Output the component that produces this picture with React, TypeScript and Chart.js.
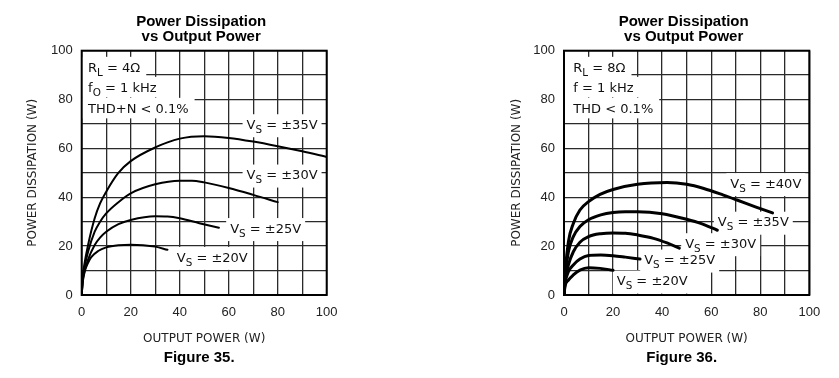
import React, { useEffect, useRef } from 'react';
import { Chart, registerables } from 'chart.js';

Chart.register(...registerables);

// ---------- Figure 35 data (R_L = 4 Ω) ----------
const fig35X20 = [0, 0.4, 1.2, 2.5, 3.9, 6.7, 10, 15, 20, 25, 30, 35];
const fig35Y20 = [0, 5, 9.5, 13, 15.5, 18.0, 19.5, 20.4, 20.6, 20.4, 19.8, 18.5];
const fig35X25 = [0, 0.4, 1, 2.6, 5.3, 7.5, 10, 15, 20, 30, 35, 40, 48, 56];
const fig35Y25 = [0, 5.5, 9, 14.5, 20.5, 23.5, 25.9, 29, 30.7, 32.2, 32.1, 31.4, 29.4, 27.5];
const fig35X30 = [0, 0.4, 1, 2.6, 5.3, 7.5, 10, 15, 20, 30, 40, 45, 50, 60, 70, 80];
const fig35Y30 = [0, 6.5, 10.5, 17.7, 25.9, 30, 33.4, 38, 41.6, 45.3, 46.8, 46.8, 46.1, 43.8, 41, 38];
const fig35X35 = [0, 0.4, 1, 2.6, 5.3, 7.5, 10, 14.8, 20, 30, 40, 50, 60, 70, 80, 90, 100];
const fig35Y35 = [0, 7.5, 12, 20.5, 31.4, 37.5, 42.3, 49.8, 54.8, 60.4, 64, 65, 64.3, 62.8, 60.9, 58.8, 56.5];

// ---------- Figure 36 data (R_L = 8 Ω) ----------
const fig36X20 = [0, 0.4, 1.8, 3.8, 6.5, 10, 14.7, 20];
const fig36Y20 = [0, 3.5, 6.1, 8.2, 10.2, 11.2, 10.9, 10.1];
const fig36X25 = [0, 0.4, 1.8, 3.8, 6.5, 10, 15, 20, 25, 31];
const fig36Y25 = [0, 4.5, 9.5, 12.3, 14.7, 16.2, 16.4, 16.1, 15.5, 14.7];
const fig36X30 = [0, 0.4, 1.8, 3.8, 6.5, 10, 15, 20, 25, 30, 36.5, 42, 47];
const fig36Y30 = [0, 5.5, 12.3, 17.7, 21.6, 23.9, 25.1, 25.4, 25.3, 24.6, 23.2, 21.3, 19.2];
const fig36X35 = [0, 0.4, 1.8, 3.8, 6.5, 10, 15, 20, 25, 30, 40, 50, 56, 62.5];
const fig36Y35 = [0, 7, 17.7, 23.9, 28, 30.8, 32.8, 33.8, 34.1, 34.1, 33.3, 31, 29.2, 26.5];
const fig36X40 = [0, 0.4, 1.8, 3.8, 6.5, 10, 14.7, 20, 30, 42, 50, 57, 65, 70.5, 78, 85];
const fig36Y40 = [0, 8, 21.8, 29.3, 34.8, 38.2, 41.2, 43.2, 45.3, 46, 45.3, 43.6, 40.9, 38.9, 36.1, 33.6];

// ---------- Axis tick labels ----------
const X_TICK_LABELS = [0, 20, 40, 60, 80, 100];
const Y_TICK_LABELS = [0, 20, 40, 60, 80, 100];

const TITLE_LINES = ['Power Dissipation', 'vs Output Power'];
const X_TITLE = 'OUTPUT POWER (W)';
const Y_TITLE = 'POWER DISSIPATION (W)';

type Seg = { t: string; sub?: boolean };
type Note = { segs: Seg[]; x: number; y: number };

const fig35Conditions: Note[] = [
  { segs: [{ t: 'R' }, { t: 'L', sub: true }, { t: ' = 4Ω' }], x: 2.6, y: 93.3 },
  { segs: [{ t: 'f' }, { t: 'O', sub: true }, { t: ' = 1 kHz' }], x: 2.6, y: 85.1 },
  { segs: [{ t: 'THD+N < 0.1%' }], x: 2.6, y: 76.5 },
];
const fig35Labels: Note[] = [
  { segs: [{ t: 'V' }, { t: 'S', sub: true }, { t: ' = ±35V' }], x: 67.3, y: 69.9 },
  { segs: [{ t: 'V' }, { t: 'S', sub: true }, { t: ' = ±30V' }], x: 67.3, y: 49.3 },
  { segs: [{ t: 'V' }, { t: 'S', sub: true }, { t: ' = ±25V' }], x: 60.6, y: 27.4 },
  { segs: [{ t: 'V' }, { t: 'S', sub: true }, { t: ' = ±20V' }], x: 38.8, y: 15.6 },
];
const fig36Conditions: Note[] = [
  { segs: [{ t: 'R' }, { t: 'L', sub: true }, { t: ' = 8Ω' }], x: 3.8, y: 93.3 },
  { segs: [{ t: 'f = 1 kHz' }], x: 3.8, y: 85.1 },
  { segs: [{ t: 'THD < 0.1%' }], x: 3.8, y: 76.5 },
];
const fig36Labels: Note[] = [
  { segs: [{ t: 'V' }, { t: 'S', sub: true }, { t: ' = ±40V' }], x: 67.8, y: 45.8 },
  { segs: [{ t: 'V' }, { t: 'S', sub: true }, { t: ' = ±35V' }], x: 62.7, y: 30.0 },
  { segs: [{ t: 'V' }, { t: 'S', sub: true }, { t: ' = ±30V' }], x: 49.4, y: 21.2 },
  { segs: [{ t: 'V' }, { t: 'S', sub: true }, { t: ' = ±25V' }], x: 32.7, y: 14.5 },
  { segs: [{ t: 'V' }, { t: 'S', sub: true }, { t: ' = ±20V' }], x: 21.5, y: 5.9 },
];

const NOTE_FONT = "'DejaVu Sans', sans-serif";
const NOTE_SIZE = 13;

function segWidth(ctx: CanvasRenderingContext2D, segs: Seg[]) {
  let w = 0;
  for (const s of segs) {
    ctx.font = `${s.sub ? NOTE_SIZE * 0.8 : NOTE_SIZE}px ${NOTE_FONT}`;
    w += ctx.measureText(s.t).width;
  }
  return w;
}

function drawSegs(ctx: CanvasRenderingContext2D, segs: Seg[], x: number, yc: number) {
  let cx = x;
  ctx.fillStyle = '#111';
  ctx.textAlign = 'left';
  ctx.textBaseline = 'alphabetic';
  for (const s of segs) {
    const size = s.sub ? NOTE_SIZE * 0.8 : NOTE_SIZE;
    ctx.font = `${size}px ${NOTE_FONT}`;
    ctx.fillText(s.t, cx, yc + NOTE_SIZE * 0.365 + (s.sub ? 4 : 0));
    cx += ctx.measureText(s.t).width;
  }
}

function makeNotesPlugin(conditions: Note[], labels: Note[]) {
  return {
    id: 'notes',
    beforeDatasetsDraw(chart: any) {
      const { ctx, chartArea, scales } = chart;
      ctx.save();
      const rowH = 20.5;
      for (const n of conditions) {
        const px = scales.x.getPixelForValue(n.x);
        const py = scales.y.getPixelForValue(n.y);
        const w = segWidth(ctx, n.segs);
        ctx.fillStyle = '#fff';
        ctx.fillRect(chartArea.left, py - rowH / 2, px - chartArea.left + w + 6, rowH);
      }
      for (const n of labels) {
        const px = scales.x.getPixelForValue(n.x);
        const py = scales.y.getPixelForValue(n.y);
        const w = segWidth(ctx, n.segs);
        ctx.fillStyle = '#fff';
        ctx.fillRect(px - 4, py - 10, Math.min(w + 8, chartArea.right - px + 4), 23);
      }
      for (const n of [...conditions, ...labels]) {
        const px = scales.x.getPixelForValue(n.x);
        const py = scales.y.getPixelForValue(n.y);
        drawSegs(ctx, n.segs, px, py);
      }
      ctx.restore();
    },
  };
}

function makeFramePlugin(caption: string) {
  return {
    id: 'frame',
    afterDraw(chart: any) {
      const { ctx, chartArea } = chart;
      ctx.save();
      ctx.strokeStyle = '#000';
      ctx.lineWidth = 2;
      ctx.strokeRect(chartArea.left, chartArea.top, chartArea.right - chartArea.left, chartArea.bottom - chartArea.top);
      const cx = (chartArea.left + chartArea.right) / 2;
      ctx.fillStyle = '#000';
      ctx.textAlign = 'center';
      ctx.textBaseline = 'alphabetic';
      ctx.font = "bold 15px 'Liberation Sans', Arial, sans-serif";
      ctx.fillText(TITLE_LINES[0], cx - 3, 26);
      ctx.fillText(TITLE_LINES[1], cx - 3, 41);
      ctx.fillText(caption, cx - 5, 362.4);
      ctx.restore();
    },
  };
}

function series(xs: number[], ys: number[], width: number) {
  return {
    data: xs.map((x, i) => ({ x, y: ys[i] })),
    borderColor: '#000',
    borderWidth: width,
    pointRadius: 0,
    fill: false,
    cubicInterpolationMode: 'monotone' as const,
    borderCapStyle: 'round' as const,
    borderJoinStyle: 'round' as const,
  };
}

type PanelProps = {
  width: number;
  datasets: any[];
  conditions: Note[];
  labels: Note[];
  caption: string;
  padLeft: number;
  yWidth: number;
  padRight: number;
};

function Panel(p: PanelProps) {
  const ref = useRef<HTMLCanvasElement>(null);
  useEffect(() => {
    if (!ref.current) return;
    const grid = { color: '#2a2a2a', lineWidth: 1.3, drawTicks: false };
    const tickFont = { family: "'Liberation Sans', Arial, sans-serif", size: 13 };
    const titleFont = { family: "'DejaVu Sans', sans-serif", size: 12 };
    const chart = new Chart(ref.current, {
      type: 'line',
      data: { datasets: p.datasets },
      options: {
        animation: false,
        responsive: false,
        devicePixelRatio: 1,
        layout: { padding: { left: p.padLeft, right: p.padRight, top: 50.7, bottom: 32.3 } },
        plugins: { legend: { display: false }, tooltip: { enabled: false }, title: { display: false } },
        scales: {
          x: {
            type: 'linear',
            min: 0,
            max: 100,
            border: { display: false },
            grid,
            ticks: {
              stepSize: 10,
              autoSkip: false,
              maxRotation: 0,
              padding: 10,
              color: '#222',
              font: tickFont,
              callback: (v: any) => (X_TICK_LABELS.includes(Number(v)) ? String(v) : ''),
            },
            title: { display: true, text: X_TITLE, color: '#222', font: titleFont, padding: 0 },
            afterFit: (s: any) => {
              s.height = 50.7;
            },
          },
          y: {
            type: 'linear',
            min: 0,
            max: 100,
            border: { display: false },
            grid,
            ticks: {
              stepSize: 10,
              autoSkip: false,
              padding: 9,
              color: '#222',
              font: tickFont,
              callback: (v: any) => (Y_TICK_LABELS.includes(Number(v)) ? String(v) : ''),
            },
            title: { display: true, text: Y_TITLE, color: '#222', font: titleFont, padding: 0 },
            afterFit: (s: any) => {
              s.width = p.yWidth;
            },
          },
        },
      } as any,
      plugins: [makeNotesPlugin(p.conditions, p.labels), makeFramePlugin(p.caption)],
    });
    return () => chart.destroy();
  }, []);
  return <canvas ref={ref} width={p.width} height={378} style={{ display: 'block', width: p.width, height: 378 }} />;
}

export default function App() {
  const ds35 = [
    series(fig35X20, fig35Y20, 2),
    series(fig35X25, fig35Y25, 2),
    series(fig35X30, fig35Y30, 2),
    series(fig35X35, fig35Y35, 2),
  ];
  const ds36 = [
    series(fig36X20, fig36Y20, 3),
    series(fig36X25, fig36Y25, 3),
    series(fig36X30, fig36Y30, 3),
    series(fig36X35, fig36Y35, 3),
    series(fig36X40, fig36Y40, 3),
  ];
  return (
    <div style={{ position: 'absolute', left: 0, top: 0, width: 839, height: 378, background: '#fff', display: 'flex' }}>
      <Panel width={420} datasets={ds35} conditions={fig35Conditions} labels={fig35Labels} caption="Figure 35." padLeft={25.8} yWidth={55.9} padRight={93.3} />
      <Panel width={419} datasets={ds36} conditions={fig36Conditions} labels={fig36Labels} caption="Figure 36." padLeft={89.5} yWidth={54.5} padRight={29.7} />
    </div>
  );
}
